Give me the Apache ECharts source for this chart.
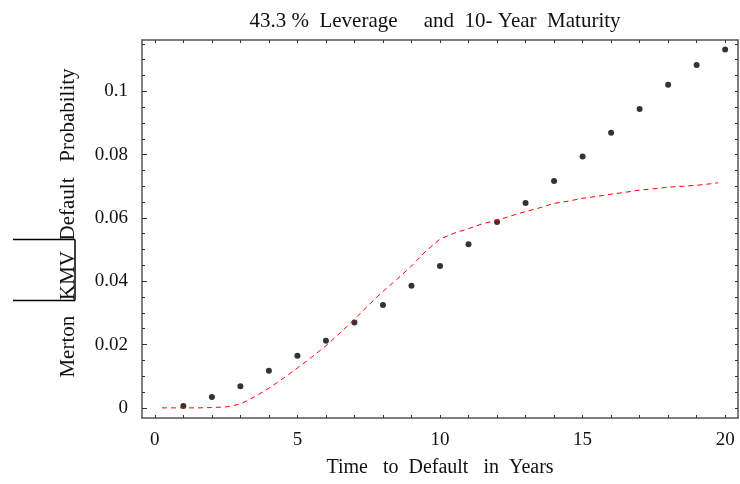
<!DOCTYPE html>
<html>
<head>
<meta charset="utf-8">
<script src="https://cdn.jsdelivr.net/npm/echarts@6/dist/echarts.min.js"></script>
<style>html,body{margin:0;padding:0;background:#fff;}#c{width:740px;height:484px;}</style>
</head>
<body>
<div id="c"></div>
<script>
const titleText = "43.3 %  Leverage     and  10- Year  Maturity";
const xName = "Time   to  Default   in  Years";
const yName = "Merton   KMV  Default   Probability";

// Merton KMV points (years 1..20)
const dotX = [1,2,3,4,5,6,7,8,9,10,11,12,13,14,15,16,17,18,19,20];
const dotY = [0.0006,0.0034,0.0068,0.0117,0.0165,0.0212,0.0270,0.0325,0.0386,0.0448,0.0517,0.0587,0.0647,0.0717,0.0794,0.0869,0.0944,0.1021,0.1083,0.1132];

// red dashed model curve
const curveX = [0.25,0.5,1,1.5,2,2.5,3,3.5,4,4.5,5,5.5,6,6.5,7,7.5,8,8.5,9,9.5,10,10.5,11,11.5,12,12.5,13,13.5,14,14.5,15,15.5,16,16.5,17,17.5,18,18.5,19,19.5,19.75];
const curveY = [0,0,0,0,0.0001,0.0003,0.0012,0.0035,0.0062,0.0093,0.0126,0.0160,0.0196,0.0237,0.0280,0.0325,0.0368,0.0407,0.0448,0.0495,0.0533,0.0552,0.0566,0.0582,0.0592,0.0607,0.0620,0.0632,0.0646,0.0653,0.0662,0.0668,0.0675,0.0681,0.0688,0.0692,0.0697,0.0700,0.0703,0.0708,0.0711];

const xLabelValues = [0,5,10,15,20];
const yLabelValues = [0,0.02,0.04,0.06,0.08,0.1];
const xTickValues = [0,1,2,3,4,5,6,7,8,9,10,11,12,13,14,15,16,17,18,19,20];
const yTickValues = [0,0.005,0.01,0.015,0.02,0.025,0.03,0.035,0.04,0.045,0.05,0.055,0.06,0.065,0.07,0.075,0.08,0.085,0.09,0.095,0.1,0.105,0.11,0.115];

const FONT = "'Liberation Serif','Times New Roman',serif";
const X_MIN = -0.45, X_MAX = 20.45, Y_MIN = -0.0032, Y_MAX = 0.1162;
const frame = {show:true, onZero:false, lineStyle:{color:'#555', width:1.5}};

const chart = echarts.init(document.getElementById('c'), null, {renderer:'canvas'});
chart.setOption({
  animation:false,
  backgroundColor:'#fff',
  title:{text:titleText, left:430, top:6, textAlign:'center',
    textStyle:{fontFamily:FONT, fontSize:21, fontWeight:'normal', color:'#111'}},
  grid:{left:142, top:40, right:2, bottom:66},
  xAxis:[
    {type:'value', position:'bottom', min:X_MIN, max:X_MAX,
     name:xName, nameLocation:'middle', nameGap:40,
     nameTextStyle:{fontFamily:FONT, fontSize:20, color:'#111'},
     axisLine:frame, splitLine:{show:false},
     axisTick:{show:true, inside:true, length:3, customValues:xTickValues, lineStyle:{color:'#333'}},
     axisLabel:{customValues:xLabelValues, fontFamily:FONT, fontSize:19, color:'#111', margin:13}},
    {type:'value', position:'top', min:X_MIN, max:X_MAX,
     axisLine:frame, splitLine:{show:false},
     axisTick:{show:true, inside:true, length:3, customValues:xTickValues, lineStyle:{color:'#333'}},
     axisLabel:{show:false}}
  ],
  yAxis:[
    {type:'value', position:'left', min:Y_MIN, max:Y_MAX,
     axisLine:frame, splitLine:{show:false},
     axisTick:{show:true, inside:true, length:5, customValues:yLabelValues, lineStyle:{color:'#333'}},
     axisLabel:{customValues:yLabelValues, fontFamily:FONT, fontSize:19, color:'#111', margin:14}},
    {type:'value', position:'left', min:Y_MIN, max:Y_MAX,
     axisLine:{show:false, onZero:false}, splitLine:{show:false},
     axisTick:{show:true, inside:true, length:3, customValues:yTickValues, lineStyle:{color:'#333'}},
     axisLabel:{show:false}},
    {type:'value', position:'right', min:Y_MIN, max:Y_MAX,
     axisLine:frame, splitLine:{show:false},
     axisTick:{show:true, inside:true, length:3, customValues:yTickValues, lineStyle:{color:'#333'}},
     axisLabel:{show:false}}
  ],
  graphic:[
    {type:'text', x:68, y:223, rotation:Math.PI/2, style:{text:yName, fontFamily:FONT, fontSize:21, fill:'#111', align:'center', verticalAlign:'middle'}},
    {type:'line', shape:{x1:13, y1:239.5, x2:75, y2:239.5}, style:{stroke:'#000', lineWidth:1.5}},
    {type:'line', shape:{x1:13, y1:300.5, x2:75, y2:300.5}, style:{stroke:'#000', lineWidth:1.5}},
    {type:'line', shape:{x1:75, y1:239.5, x2:75, y2:300.5}, style:{stroke:'#000', lineWidth:1.5}}
  ],
  series:[
    {type:'line', xAxisIndex:0, yAxisIndex:0, showSymbol:false, smooth:false,
     data:curveX.map((x,i)=>[x,curveY[i]]),
     lineStyle:{color:'#ff0000', width:1, type:[5,4]}},
    {type:'scatter', xAxisIndex:0, yAxisIndex:0, symbol:'circle', symbolSize:6,
     data:dotX.map((x,i)=>[x,dotY[i]]),
     itemStyle:{color:'#000'}}
  ]
});
</script>
</body>
</html>
